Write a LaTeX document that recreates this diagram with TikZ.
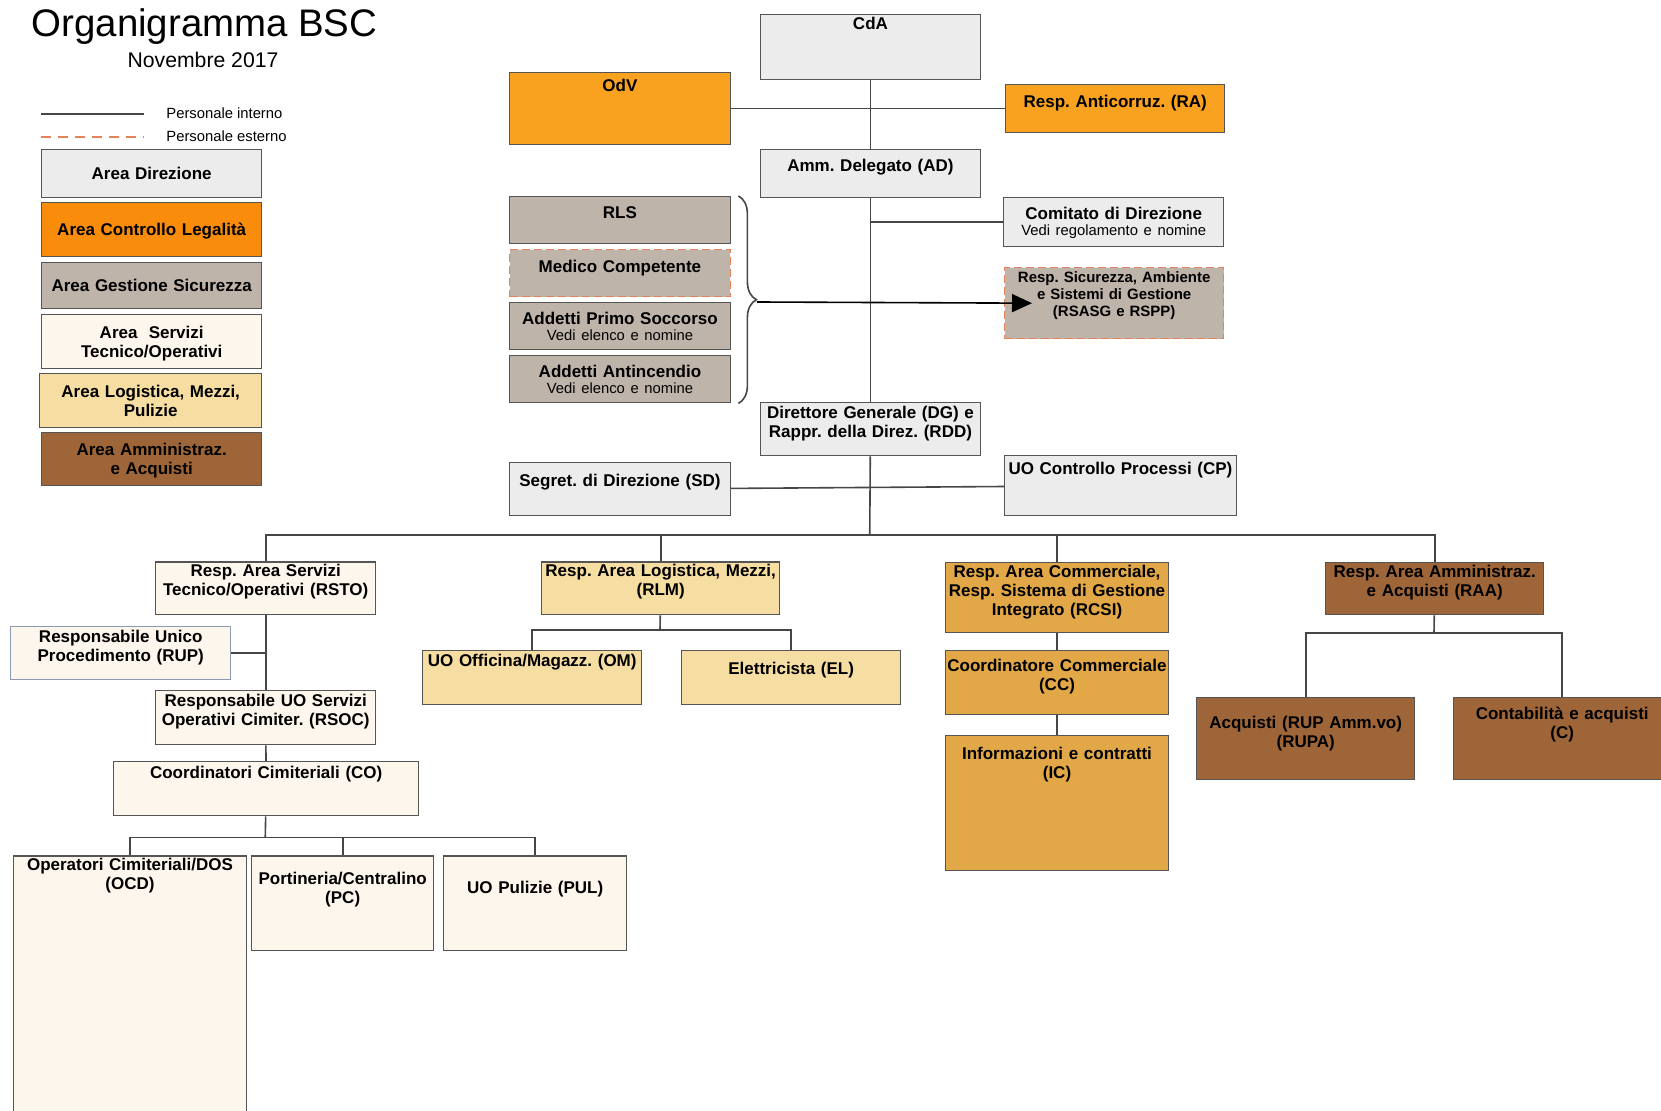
\documentclass[tikz,border=0pt]{standalone}
\usepackage{fontspec}
\setmainfont{Liberation Sans}
\frenchspacing
\usetikzlibrary{positioning,arrows.meta,decorations.pathreplacing}
\definecolor{edgecolor}{RGB}{85,85,85}
\definecolor{linecolor}{RGB}{70,70,70}
\definecolor{dircolor}{RGB}{236,236,237}
\definecolor{legcolor}{RGB}{250,140,12}
\definecolor{cltcolor}{RGB}{248,162,32}
\definecolor{sicolor}{RGB}{190,180,170}
\definecolor{stocolor}{RGB}{253,246,236}
\definecolor{logcolor}{RGB}{246,221,162}
\definecolor{comcolor}{RGB}{226,168,72}
\definecolor{ammcolor}{RGB}{158,102,56}
\definecolor{extcolor}{RGB}{228,130,90}
\definecolor{rupedge}{RGB}{140,154,180}
\tikzset{
  orgbox/.style={draw=edgecolor, line width=0.7pt, anchor=north west, inner sep=0pt,
    align=center, font=\bfseries\fontsize{8.5}{9.5}\selectfont},
  extbox/.style={orgbox, draw=extcolor, dash pattern=on 4pt off 2pt},
  conn/.style={draw=linecolor, line width=0.8pt},
  legtext/.style={anchor=west, inner sep=0pt, font=\fontsize{7.4}{9}\selectfont}
}
\begin{document}
\begin{tikzpicture}[x=0.5pt, y=-0.5pt]
            \useasboundingbox (0,0) rectangle (1661,1111);

            % Title and legend
            \node[font=\fontsize{19.2}{23}\selectfont] (title) at (204.5,27) {Organigramma BSC};
            \node[font=\fontsize{10.6}{13}\selectfont] (date) at (203,60) {Novembre 2017};
            \coordinate (intA) at (41,114);
            \coordinate (intB) at (144,114);
            \coordinate (extA) at (41,137);
            \coordinate (extB) at (144,137);
            \node[legtext] (inttxt) at (166,113) {Personale interno};
            \node[legtext] (exttxt) at (166,136) {Personale esterno};
            \node[orgbox, fill=dircolor, text width=110pt, text height=15pt, text depth=9pt] (ldir) at (41,149) {Area Direzione};
            \node[orgbox, fill=legcolor, text width=110pt, text height=16.5pt, text depth=10.5pt] (lleg) at (41,202) {Area Controllo Legalità};
            \node[orgbox, fill=sicolor, text width=110pt, text height=14.5pt, text depth=8.5pt] (lsic) at (41,262) {Area Gestione Sicurezza};
            \node[orgbox, fill=stocolor, text width=110pt, text height=12pt, text depth=15pt] (lsto) at (41,314) {Area~ Servizi\\Tecnico/Operativi};
            \node[orgbox, fill=logcolor, text width=111pt, text height=12pt, text depth=15pt] (llog) at (39,373) {Area Logistica, Mezzi,\\Pulizie};
            \node[orgbox, fill=ammcolor, text width=110pt, text height=11.5pt, text depth=15pt] (lamm) at (41,432) {Area Amministraz.\\e Acquisti};

            % Direction
            \node[orgbox, fill=dircolor, text width=109.75pt, text height=7.5pt, text depth=25pt] (cda) at (760,14) {CdA};
            \node[orgbox, fill=cltcolor, text width=110.25pt, text height=9.5pt, text depth=26.5pt] (odv) at (509,72) {OdV};
            \node[orgbox, fill=cltcolor, text width=109.5pt, text height=11.5pt, text depth=12.5pt] (ra) at (1005,84) {Resp. Anticorruz. (RA)};
            \node[orgbox, fill=dircolor, text width=109.75pt, text height=11pt, text depth=13pt] (ad) at (760,149) {Amm. Delegato (AD)};
            \node[orgbox, fill=dircolor, text width=110pt, text height=11pt, text depth=13.5pt] (cdd) at (1003,197) {Comitato di Direzione\\[-1.5pt]{\mdseries\fontsize{7.4}{8}\selectfont Vedi regolamento e nomine}};
            \node[orgbox, fill=dircolor, text width=109.75pt, text height=8pt, text depth=18.5pt] (dg) at (760,402) {Direttore Generale (DG) e\\Rappr. della Direz. (RDD)};
            \node[orgbox, fill=dircolor, text width=110.25pt, text height=12pt, text depth=14.5pt] (sd) at (509,462) {Segret. di Direzione (SD)};
            \node[orgbox, fill=dircolor, text width=115.75pt, text height=9.5pt, text depth=20.5pt] (cp) at (1004,455) {UO Controllo Processi (CP)};

            % Safety
            \node[orgbox, fill=sicolor, text width=110.25pt, text height=11pt, text depth=12.5pt] (rls) at (509,196) {RLS};
            \node[extbox, fill=sicolor, text width=110.25pt, text height=11.5pt, text depth=12pt] (mc) at (509,249) {Medico Competente};
            \node[orgbox, fill=sicolor, text width=110.25pt, text height=11pt, text depth=12.5pt] (aps) at (509,302) {Addetti Primo Soccorso\\[-1.5pt]{\mdseries\fontsize{7.4}{8}\selectfont Vedi elenco e nomine}};
            \node[orgbox, fill=sicolor, text width=110.25pt, text height=11pt, text depth=12.5pt] (aai) at (509,355) {Addetti Antincendio\\[-1.5pt]{\mdseries\fontsize{7.4}{8}\selectfont Vedi elenco e nomine}};
            \node[extbox, fill=sicolor, text width=109.5pt, text height=7.5pt, text depth=28pt, font=\bfseries\fontsize{7.5}{8.5}\selectfont] (rsasg) at (1004,267) {Resp. Sicurezza, Ambiente\\e Sistemi di Gestione\\(RSASG e RSPP)};

            % Area heads
            \node[orgbox, fill=stocolor, text width=110pt, text height=7.25pt, text depth=19pt] (rsto) at (155,561.5) {Resp. Area Servizi\\Tecnico/Operativi (RSTO)};
            \node[orgbox, fill=logcolor, text width=119pt, text height=7.25pt, text depth=19pt] (rlm) at (541,561.5) {Resp. Area Logistica, Mezzi,\\(RLM)};
            \node[orgbox, fill=comcolor, text width=111.7pt, text height=7.5pt, text depth=27.5pt] (rcsi) at (944.6,562) {Resp. Area Commerciale,\\Resp. Sistema di Gestione\\Integrato (RCSI)};
            \node[orgbox, fill=ammcolor, text width=109pt, text height=7.5pt, text depth=18.5pt] (raa) at (1325,562) {Resp. Area Amministraz.\\e Acquisti (RAA)};

            % Technical services
            \node[orgbox, draw=rupedge, fill=stocolor, text width=110pt, text height=8pt, text depth=18.5pt] (rup) at (10,626) {Responsabile Unico\\Procedimento (RUP)};
            \node[orgbox, fill=stocolor, text width=110pt, text height=8pt, text depth=19pt] (rsoc) at (155,690) {Responsabile UO Servizi\\Operativi Cimiter. (RSOC)};
            \node[orgbox, fill=stocolor, text width=152.5pt, text height=8.5pt, text depth=18.5pt] (co) at (113,761) {Coordinatori Cimiteriali (CO)};
            \node[orgbox, fill=stocolor, text width=116.7pt, text height=7.25pt, text depth=125pt] (ocd) at (12.6,855.5) {Operatori Cimiteriali/DOS\\(OCD)};
            \node[orgbox, fill=stocolor, text width=91pt, text height=14.25pt, text depth=33pt] (pc) at (251,855.5) {Portineria/Centralino\\(PC)};
            \node[orgbox, fill=stocolor, text width=91.5pt, text height=18.75pt, text depth=28.5pt] (pul) at (443,855.5) {UO Pulizie (PUL)};

            % Logistics
            \node[orgbox, fill=logcolor, text width=109.5pt, text height=8pt, text depth=18.8pt] (om) at (422,650) {UO Officina/Magazz. (OM)};
            \node[orgbox, fill=logcolor, text width=109.5pt, text height=12pt, text depth=14.8pt] (el) at (681,650) {Elettricista (EL)};

            % Commercial
            \node[orgbox, fill=comcolor, text width=111.7pt, text height=10.5pt, text depth=21.5pt] (cc) at (944.6,650) {Coordinatore Commerciale\\(CC)};
            \node[orgbox, fill=comcolor, text width=111.7pt, text height=12pt, text depth=55.5pt] (ic) at (944.6,735) {Informazioni e contratti\\(IC)};

            % Administration
            \node[orgbox, fill=ammcolor, text width=109pt, text height=15.5pt, text depth=25.5pt] (rupa) at (1196,697) {Acquisti (RUP Amm.vo)\\(RUPA)};
            \node[orgbox, fill=ammcolor, text width=108.5pt, text height=11pt, text depth=30pt] (cont) at (1453,697) {Contabilità e acquisti\\(C)};

            % Connectors
            \draw[conn] (intA) -- (intB);
            \draw[draw=extcolor, line width=0.8pt, dash pattern=on 5pt off 3.5pt] (extA) -- (extB);
            \draw[conn] (odv) -- (ra);
            \draw[conn] (cda) -- (ad);
            \draw[conn] (ad) -- (dg);
            \draw[conn] (cdd.west) -- (cdd.west -| ad.south);
            \draw[conn] (sd) -- (cp);
            \draw[conn, decorate, decoration={brace, amplitude=9pt}] ([xshift=3.75pt]rls.north east) -- ([xshift=3.75pt]aai.south east);
            \draw[conn, draw=black, -{Triangle[length=10pt,width=9pt]}] ([xshift=13pt]aps.north east) -- ([xshift=14pt]rsasg.west);

            \coordinate (bus) at (869.75,535);
            \draw[conn] (dg) -- (bus);
            \draw[conn] (rsto.north) |- (bus) -| (raa.north);
            \draw[conn] (rlm.north) -- (rlm.north |- bus);
            \draw[conn] (rcsi.north) -- (rcsi.north |- bus);

            \draw[conn] (rsto) -- (rsoc);
            \draw[conn] (rsoc) -- (co);
            \draw[conn] (rup.east) -- (rup.east -| rsto.south);
            \coordinate (cojoin) at (265.25,837.5);
            \draw[conn] (co) -- (cojoin);
            \draw[conn] (ocd.north) |- (cojoin) -| (pul.north);
            \draw[conn] (pc.north) -- (pc.north |- cojoin);

            \coordinate (rlmjoin) at (660,630);
            \draw[conn] (rlm) -- (rlmjoin);
            \draw[conn] (om.north) |- (rlmjoin) -| (el.north);

            \draw[conn] (rcsi) -- (cc);
            \draw[conn] (cc) -- (ic);

            \coordinate (raajoin) at (1434,633);
            \draw[conn] (raa) -- (raajoin);
            \draw[conn] (rupa.north) |- (raajoin) -| (cont.north);
        \end{tikzpicture}
\end{document}
